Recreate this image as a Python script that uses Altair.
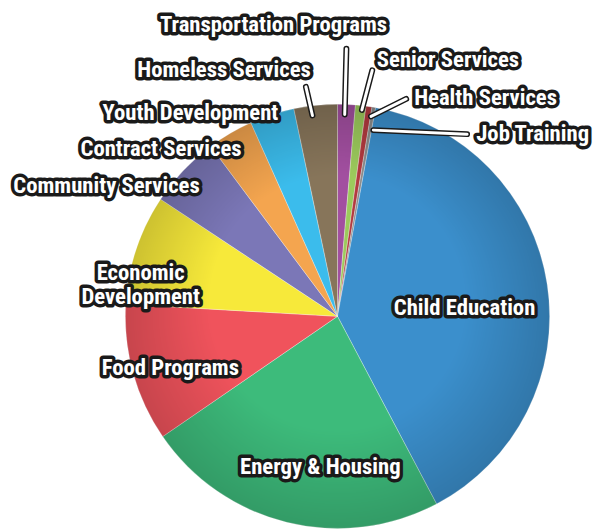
import math
import altair as alt
import pandas as pd

# ---- data ----
categories = ["Transportation Programs", "Senior Services", "Health Services", "Job Training",
              "Child Education", "Energy & Housing", "Food Programs", "Economic Development",
              "Community Services", "Contract Services", "Youth Development", "Homeless Services"]
shares = [1.35, 0.8, 0.45, 0.28, 39.4, 23.15, 10.5, 8.4, 5.5, 3.5, 3.4, 3.3]
colors = ["#a24fa0", "#9cca5c", "#b23a3f", "#8c8c8c", "#3b8fcc", "#3dbb7b",
          "#f0535c", "#f7e93a", "#7b77b7", "#f4a54f", "#3bbcec", "#87755a"]
label_text = ["Transportation Programs", "Senior Services", "Health Services", "Job Training",
              "Child Education", "Energy & Housing", "Food Programs", "Economic\nDevelopment",
              "Community Services", "Contract Services", "Youth Development", "Homeless Services"]

# ---- label layout (angle clockwise from 12 o'clock, distance in pie radii) ----
label_angle = [347.6, 23.3, 34.2, 46.9, 86.5, 186.5, 252.8, 282.4, 299.4, 313.4, 324.1, 335.3]
label_dist = [1.405, 1.317, 1.242, 1.26, 0.60, 0.715, 0.825, 0.95, 1.25, 1.145, 1.183, 1.28]

# leader lines (pie-radius units, y up), outer end -> inner end
leader_cat = ["Transportation Programs", "Senior Services", "Health Services", "Job Training", "Homeless Services"]
leader_x1 = [0.042, 0.164, 0.324, 0.611, -0.149]
leader_y1 = [1.262, 1.160, 1.025, 0.859, 1.082]
leader_x2 = [0.034, 0.115, 0.158, 0.169, -0.118]
leader_y2 = [0.952, 0.973, 0.943, 0.878, 0.947]

W, H = 594, 521
CX, CY, R = 334, 309, 215
FONT = "Roboto Condensed, Liberation Sans, Arial, sans-serif"

pie_df = pd.DataFrame({"category": categories, "share": shares, "idx": list(range(len(categories)))})
lab_df = pd.DataFrame({
    "label": label_text,
    "lx": [d * math.sin(math.radians(a)) for a, d in zip(label_angle, label_dist)],
    "ly": [d * math.cos(math.radians(a)) for a, d in zip(label_angle, label_dist)],
})
lead_df = pd.DataFrame({"category": leader_cat, "x1": leader_x1, "y1": leader_y1,
                        "x2": leader_x2, "y2": leader_y2})

xscale = alt.Scale(domain=[-CX / R, (W - CX) / R], nice=False, zero=False)
yscale = alt.Scale(domain=[-(H - CY) / R, CY / R], nice=False, zero=False)

pie = alt.Chart(pie_df).mark_arc(outerRadius=R, stroke="#ffffff", strokeWidth=0.6,
                                 strokeOpacity=0.5).encode(
    theta=alt.Theta("share:Q", stack=True),
    color=alt.Color("category:N", scale=alt.Scale(domain=categories, range=colors), legend=None),
    order=alt.Order("idx:Q"),
    x=alt.datum(0, scale=xscale, axis=None),
    y=alt.datum(0, scale=yscale, axis=None),
)

shade = alt.Chart(pd.DataFrame({"k": [0]})).mark_arc(
    outerRadius=R, theta=0, theta2=2 * math.pi,
    fill=alt.RadialGradient(
        gradient="radial", x1=0.5, y1=0.42, r1=0, x2=0.5, y2=0.5, r2=0.5,
        stops=[alt.GradientStop(offset=0, color="rgba(0,0,0,0)"),
               alt.GradientStop(offset=0.6, color="rgba(0,0,0,0)"),
               alt.GradientStop(offset=1, color="rgba(0,0,0,0.17)")]),
).encode(x=alt.datum(0), y=alt.datum(0))

lead_dark = alt.Chart(lead_df).mark_rule(color="#1a1a1a", strokeWidth=6, strokeCap="round").encode(
    x="x1:Q", y="y1:Q", x2="x2:Q", y2="y2:Q")
lead_white = alt.Chart(lead_df).mark_rule(color="#ffffff", strokeWidth=3, strokeCap="round").encode(
    x="x1:Q", y="y1:Q", x2="x2:Q", y2="y2:Q")

text_common = dict(font=FONT, fontWeight="bold", fontSize=23, align="center", baseline="middle",
                   lineBreak="\n", lineHeight=24)
text_dark = alt.Chart(lab_df).mark_text(fill="#1a1a1a", stroke="#1a1a1a", strokeWidth=7,
                                        strokeJoin="round", **text_common).encode(
    x="lx:Q", y="ly:Q", text="label:N")
text_white = alt.Chart(lab_df).mark_text(fill="#ffffff", **text_common).encode(
    x="lx:Q", y="ly:Q", text="label:N")

chart = alt.layer(pie, shade, lead_dark, lead_white, text_dark, text_white).properties(
    width=W, height=H, padding=0, autosize=alt.AutoSizeParams(type="none"),
).configure_view(stroke=None)

chart.save("out.html", embed_options={"renderer": "svg", "actions": False})
